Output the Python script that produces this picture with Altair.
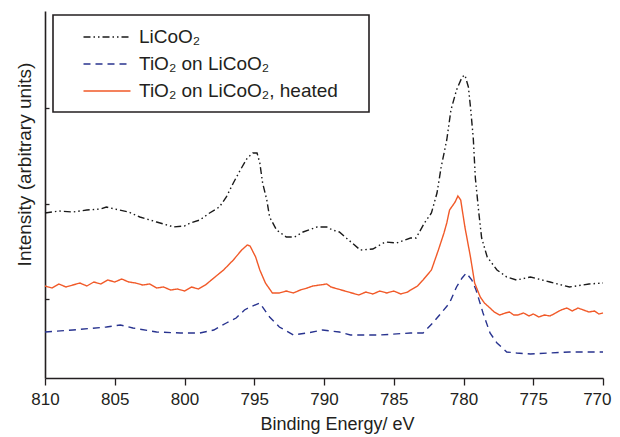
import altair as alt
import pandas as pd

series_names = ["LiCoO₂", "TiO₂ on LiCoO₂", "TiO₂ on LiCoO₂, heated"]
series_colors = ["#1a1a1a", "#28338f", "#f15a29"]
series_dashes = [[7, 3, 1.5, 3, 1.5, 3], [7, 5], [1, 0]]

# LiCoO2 (black, dash-dot-dot)
licoo2_energy = [810, 809, 808, 807, 806, 805.6, 805, 804, 803.2, 802, 801, 800.8, 800, 799.6,
                 798.9, 798.2, 797.5, 797, 796.5, 796, 795.5, 795.1, 794.8, 794.6, 794.4, 794.1,
                 793.9, 793.4, 792.7, 792.1, 791.5, 790.5, 789.8, 789.4, 788.9, 787.4, 786.5,
                 786, 785.6, 784.8, 783.8, 783.4, 782.8, 782.3, 781.9, 781.6, 781.2, 780.9,
                 780.5, 780.1, 779.9, 779.65, 779.5, 779.3, 779.15, 778.9, 778.7, 778.3, 777.6,
                 776.9, 776.2, 775.2, 773.8, 772.4, 771, 770]
licoo2_int = [165, 167, 166, 168, 169, 171, 169, 166, 161, 156, 152, 151, 152, 155,
              158, 165, 171, 181, 195, 208, 220, 225, 225, 215, 195, 178,
              161, 148, 141, 141, 146, 151, 151, 148, 146, 128, 129,
              133, 136, 135, 140, 140, 155, 165, 185, 211, 238, 268,
              288, 301, 303, 291, 271, 240, 200, 165, 140, 121, 108,
              101, 98, 101, 96, 91, 94, 95]

# TiO2 on LiCoO2 (blue, dashed)
tio2_energy = [810, 808, 805.6, 804.6, 803.7, 802, 800.3, 798.9, 797.9, 797, 796.3, 795.7, 795.3,
               794.6, 793.9, 793.2, 792.2, 791.2, 790.1, 788.9, 788.1, 786, 783.8, 782.9, 782.2,
               781.6, 781, 780.5, 780.1, 779.8, 779.4, 779.1, 778.6, 778.1, 777.6, 776.9, 776.2,
               775.2, 773.8, 772.4, 770]
tio2_int = [46, 48, 51, 53, 50, 46, 45, 45, 48, 55, 60, 68, 71,
            75, 61, 51, 43, 45, 48, 46, 43, 43, 45, 45, 55,
            65, 75, 91, 100, 105, 98, 88, 65, 45, 35, 26, 25,
            24, 25, 26, 26]

# TiO2 on LiCoO2, heated (orange, solid)
heated_energy = [810, 809.5, 809, 808.5, 808, 807.5, 807, 806.5, 806, 805.5, 805, 804.5, 804,
                 803.5, 803, 802.5, 802, 801.5, 801, 800.5, 800, 799.5, 799, 798.5, 797.9,
                 797.2, 796.5, 795.9, 795.5, 795.3, 794.9, 794.6, 794.2, 793.7, 793.2, 792.7,
                 792.2, 791.7, 791.2, 790.8, 790.3, 789.8, 789.5, 789, 788.5, 788, 787.5, 787,
                 786.5, 786, 785.5, 785, 784.5, 784, 783.8, 783.3, 782.9, 782.3, 781.8, 781.4,
                 781.2, 781, 780.6, 780.4, 780.2, 779.9, 779.5, 779.2, 778.8, 778.5, 778.1,
                 777.8, 777.4, 777, 776.7, 776.4, 776.1, 775.7, 775.3, 775, 774.6, 774.2,
                 773.8, 773.4, 773, 772.6, 772.2, 771.8, 771.4, 771, 770.6, 770.3, 770]
heated_int = [92, 90, 94, 91, 93, 95, 92, 96, 94, 98, 96, 99, 96,
              95, 93, 94, 90, 91, 88, 89, 87, 91, 89, 93, 100,
              108, 118, 128, 133, 132, 121, 108, 95, 85, 85, 87,
              85, 88, 90, 92, 93, 94, 91, 89, 87, 85, 83, 86,
              84, 87, 85, 87, 84, 86, 88, 92, 98, 108, 128, 145,
              155, 168, 176, 182, 178, 151, 121, 95, 81, 75, 70,
              66, 63, 65, 66, 63, 63, 65, 62, 64, 61, 63,
              62, 65, 68, 70, 67, 70, 68, 66, 67, 64, 65]

x_ticks = [810 - 2.5 * i for i in range(17)]
y_ticks = [79, 174, 270]

rows = []
for name, es, vs in [(series_names[0], licoo2_energy, licoo2_int),
                     (series_names[1], tio2_energy, tio2_int),
                     (series_names[2], heated_energy, heated_int)]:
    for e, v in zip(es, vs):
        rows.append({"series": name, "energy": e, "intensity": v})
df = pd.DataFrame(rows)

FONT = "Liberation Sans"
TXT = "#231f20"

legend = alt.Legend(
    orient="none", legendX=8, legendY=4, title=None,
    symbolType="M-2.35,0H2.35", symbolSize=400, symbolStrokeWidth=1.6,
    symbolOffset=32, labelOffset=21,
    labelFont=FONT, labelFontSize=19, labelColor=TXT, labelLimit=450,
    padding=11, rowPadding=6,
    strokeColor=TXT,
    labelExpr="datum.label + '\u00a0\u2800'",
)

x_scale = alt.Scale(domain=[770, 810], reverse=True, nice=False, zero=False)
y_scale = alt.Scale(domain=[0, 367], nice=False, zero=False)

x_enc = alt.X(
    "energy:Q",
    scale=x_scale,
    axis=alt.Axis(
        values=x_ticks,
        labelExpr="datum.value % 5 === 0 ? datum.label : ''",
        labelFlush=False,
        labelAlign={"condition": {"test": "datum.value === 770", "value": "right"}, "value": "center"},
        labelOffset={"condition": {"test": "datum.value === 770", "value": 8}, "value": 0},
        tickSize={"condition": {"test": "datum.value % 5 === 0", "value": 7}, "value": 4},
        title="Binding Energy/ eV",
        titleX=292,
        grid=False,
        labelFont=FONT, labelFontSize=17, labelColor=TXT, labelPadding=6,
        titleFont=FONT, titleFontSize=18, titleFontWeight="normal", titleColor=TXT,
        titlePadding=8,
        domainColor=TXT, domainWidth=1.6, tickColor=TXT, tickWidth=1.3,
    ),
)

lines = alt.Chart(df).mark_line(strokeWidth=1.4).encode(
    x=x_enc,
    y=alt.Y("intensity:Q", scale=y_scale,
            axis=alt.Axis(orient="left", ticks=False, labels=False, grid=False,
                          title="Intensity (arbitrary units)", titleY=153,
                          titleFont=FONT, titleFontSize=19, titleFontWeight="normal",
                          titleColor=TXT, titlePadding=11,
                          domainColor=TXT, domainWidth=1.6)),
    color=alt.Color("series:N", scale=alt.Scale(domain=series_names, range=series_colors),
                    legend=legend),
    strokeDash=alt.StrokeDash("series:N", scale=alt.Scale(domain=series_names, range=series_dashes),
                              legend=legend),
    detail="series:N",
)

inner_ticks = alt.Chart(df).mark_line(opacity=0).encode(
    x=alt.X("energy:Q", scale=x_scale),
    y=alt.Y("intensity:Q", scale=y_scale,
            axis=alt.Axis(orient="right", offset=-558, values=y_ticks, labels=False,
                          domain=False, grid=False, title=None, tickSize=4,
                          tickColor=TXT, tickWidth=1.3)),
    detail="series:N",
)

chart = alt.layer(lines, inner_ticks).resolve_axis(y="independent").properties(
    width=558, height=367,
    autosize=alt.AutoSizeParams(type="none"),
    padding={"left": 37, "top": 3, "right": 9, "bottom": 62},
).configure_view(stroke=None).configure_legend(strokeWidth=1.6)

chart.save("out.html", embed_options={"renderer": "svg", "actions": False})
